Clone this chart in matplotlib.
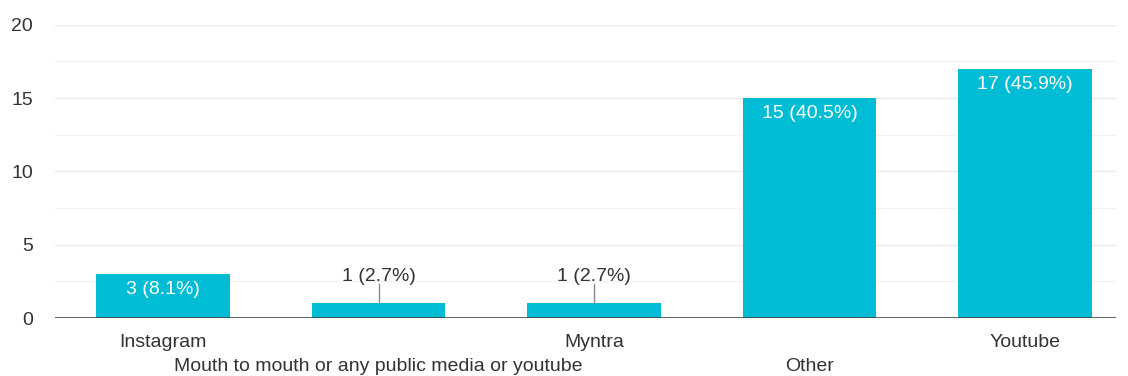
import matplotlib
matplotlib.use("Agg")
import matplotlib.pyplot as plt

plt.rcParams['font.family'] = ['Liberation Sans', 'DejaVu Sans']

categories = ["Instagram", "Mouth to mouth or any public media or youtube", "Myntra", "Other", "Youtube"]
counts = [3, 1, 1, 15, 17]
labels = ["3 (8.1%)", "1 (2.7%)", "1 (2.7%)", "15 (40.5%)", "17 (45.9%)"]
yticks = [0, 5, 10, 15, 20]

bar_color = "#00bcd4"
fs = 14

fig = plt.figure(figsize=(11.28, 3.76), dpi=100)
ax = fig.add_axes([0.049, 0.154, 0.94, 0.78])

x = list(range(len(categories)))
ax.bar(x, counts, width=0.62, color=bar_color, zorder=3)

# grid: major every 5, minor every 2.5
for v in [2.5, 7.5, 12.5, 17.5]:
    ax.axhline(v, color="#f3f3f3", lw=1, zorder=1)
for v in [5, 10, 15, 20]:
    ax.axhline(v, color="#e9e9e9", lw=1, zorder=1)
ax.axhline(0, color="#444444", lw=1.2, zorder=4)

for xi, c, lab in zip(x, counts, labels):
    if c >= 3:
        ax.annotate(lab, (xi, c), xytext=(0, -5), textcoords="offset points",
                    ha="center", va="top", color="white", fontsize=fs, zorder=5)
    else:
        ax.plot([xi, xi], [c, c + 1.3], color="#888888", lw=1, zorder=5)
        ax.text(xi, c + 1.85, lab, ha="center", va="center", color="#333333", fontsize=fs, zorder=5)

ax.set_xlim(-0.5, 4.42)
ax.set_ylim(0, 20)
ax.set_yticks(yticks)
ax.set_yticklabels([str(t) for t in yticks], fontsize=fs, color="#333333")
ax.tick_params(axis="y", length=0, pad=16)
ax.set_xticks([])
for s in ax.spines.values():
    s.set_visible(False)

# alternating two-row category labels
for xi, cat in zip(x, categories):
    dy = -0.082 if xi % 2 == 0 else -0.164
    ax.text(xi, dy, cat, transform=ax.get_xaxis_transform(), ha="center", va="center",
            fontsize=fs, color="#333333")

fig.savefig("out.png", dpi=100)
